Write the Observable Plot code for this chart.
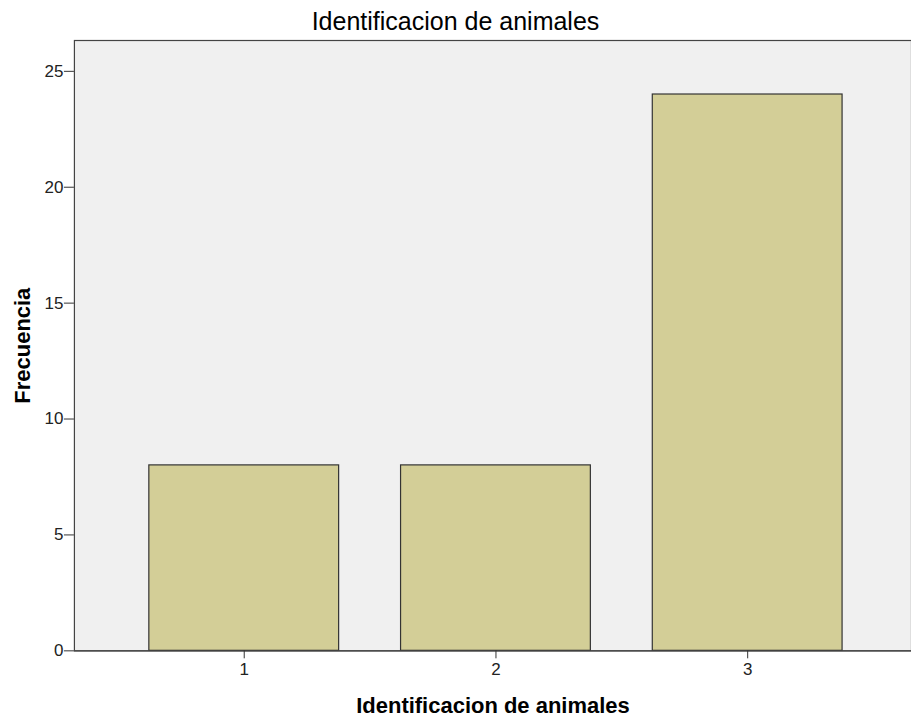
<!DOCTYPE html>
<html>
<head>
<meta charset="utf-8">
<script src="https://cdn.jsdelivr.net/npm/d3@7"></script>
<script src="https://cdn.jsdelivr.net/npm/@observablehq/plot@0.6"></script>
<style>
  html, body { margin: 0; padding: 0; background: #fff; overflow: hidden; }
  #title { height: 40px; width: 911px; text-align: center; font-family: "Liberation Sans", Arial, sans-serif; font-size: 25px; color: #000; line-height: 42px; white-space: nowrap; }
</style>
</head>
<body>
<div id="title">Identificacion de animales</div>
<div id="chart"></div>
<script>
const categories = ["1", "2", "3"];
const frecuencia = [8, 8, 24];
const yTicks = [0, 5, 10, 15, 20, 25];
const xLabel = "Identificacion de animales";
const yLabel = "Frecuencia";

const data = categories.map((c, i) => ({categoria: c, frecuencia: frecuencia[i]}));

const chart = Plot.plot({
  width: 912,
  height: 683,
  marginLeft: 74,
  marginRight: 0,
  marginTop: 0,
  marginBottom: 72,
  style: {fontFamily: "Liberation Sans, Arial, sans-serif", fontSize: "17px", color: "#222", background: "#fff", overflow: "visible"},
  x: {domain: categories, range: [117, 874], paddingInner: 0.248, paddingOuter: 0.124, axis: null},
  y: {domain: [0, 26.33], axis: null},
  marks: [
    Plot.frame({fill: "#f0f0f0", stroke: "#444", strokeWidth: 1.2}),
    Plot.barY(data, {x: "categoria", y: "frecuencia", fill: "#d3ce97", stroke: "#333", strokeWidth: 1.2}),
    Plot.ruleY([0], {stroke: "#444", strokeWidth: 1.2}),
    Plot.axisY(yTicks, {tickSize: 10, tickPadding: 1, label: null, stroke: "#333", fill: "#222", fontSize: 17}),
    Plot.axisX(categories, {tickSize: 8, tickPadding: 4, label: null, stroke: "#333", fill: "#222", fontSize: 17}),
    Plot.text([xLabel], {frameAnchor: "bottom", textAnchor: "middle", lineAnchor: "middle", dy: 55.5, fontSize: 22, fontWeight: "bold", fill: "#000"}),
    Plot.text([yLabel], {frameAnchor: "left", textAnchor: "middle", lineAnchor: "middle", dx: -52, rotate: -90, fontSize: 22, fontWeight: "bold", fill: "#000"})
  ]
});
document.getElementById("chart").appendChild(chart);
</script>
</body>
</html>
